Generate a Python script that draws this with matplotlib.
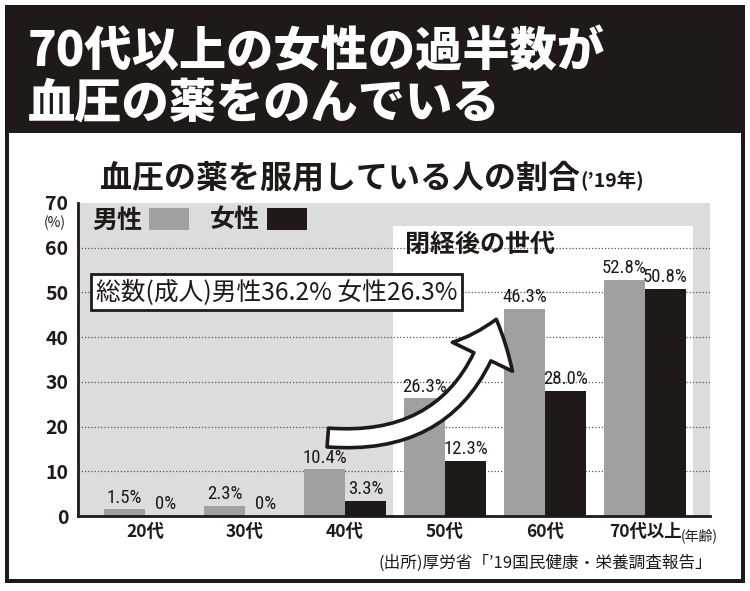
import matplotlib
matplotlib.use("Agg")
import matplotlib.pyplot as plt
from matplotlib import font_manager
from matplotlib.patches import Rectangle, Patch, FancyArrowPatch
import matplotlib.transforms as mtransforms
import numpy as np

plt.rcParams['font.family'] = ['Noto Sans CJK JP', 'DejaVu Sans']

# データ
AGE_GROUPS = ["20代", "30代", "40代", "50代", "60代", "70代以上"]
MALE = [1.5, 2.3, 10.4, 26.3, 46.3, 52.8]
FEMALE = [0, 0, 3.3, 12.3, 28.0, 50.8]
Y_TICKS = [0, 10, 20, 30, 40, 50, 60, 70]
GRID_LEVELS = [10, 20, 30, 40, 50, 60]

TITLE_1 = "70代以上の女性の過半数が"
TITLE_2 = "血圧の薬をのんでいる"
CHART_TITLE = "血圧の薬を服用している人の割合"
CHART_YEAR = "(’19年)"
TOTAL_NOTE = "総数(成人)男性36.2% 女性26.3%"
MENO_NOTE = "閉経後の世代"
SOURCE = "(出所)厚労省「’19国民健康・栄養調査報告」"

C_MALE = "#a0a0a0"
C_FEMALE = "#1f1a17"
C_BG = "#dcdcdc"
C_DARK = "#1f1a17"

W, H = 750, 591
fig = plt.figure(figsize=(W / 100, H / 100), dpi=100)

# 数字用の細めのフォント(あれば)
available = {f.name for f in font_manager.fontManager.ttflist}
narrow = "Noto Sans CJK JP"
for name in ["Liberation Sans Narrow", "DejaVu Sans Condensed", "Roboto Condensed"]:
    if name in available:
        narrow = name
        break

# 背景(ピクセル座標)
bg = fig.add_axes([0, 0, 1, 1])
bg.set_xlim(0, W)
bg.set_ylim(H, 0)
bg.axis("off")
bg.add_patch(Rectangle((5, 5), 740, 578, facecolor=C_DARK, edgecolor="none"))
bg.add_patch(Rectangle((9, 133), 732, 446, facecolor="white", edgecolor="none"))

bg.text(28, 52, TITLE_1, color="white", fontsize=34, fontweight="heavy", va="center", ha="left")
bg.text(28, 103, TITLE_2, color="white", fontsize=34, fontweight="heavy", va="center", ha="left")

t_main = bg.text(100, 178, CHART_TITLE, color=C_DARK, fontsize=23, fontweight="bold",
                 va="center", ha="left")
bg.annotate(CHART_YEAR, xy=(1, 0.42), xycoords=t_main, color=C_DARK, fontsize=14,
            fontweight="bold", va="center", ha="left")

bg.text(712, 563, SOURCE, color=C_DARK, fontsize=12, va="center", ha="right")

# メインのグラフ
ax = fig.add_axes([78 / W, (H - 516) / H, (710 - 78) / W, (516 - 203) / H])
ax.set_facecolor(C_BG)
x = np.arange(len(AGE_GROUPS))
bw = 0.41
ax.set_xlim(-0.67, 5.65)
ax.set_ylim(0, 70)

# 閉経後の世代(白い領域)
ax.add_patch(Rectangle((2.48, 0), 3.0, 64.9, facecolor="white", edgecolor="none", zorder=0.5))

for lv in GRID_LEVELS:
    ax.axhline(lv, color="#555555", lw=0.9, linestyle=(0, (1, 1.6)), zorder=1)

b1 = ax.bar(x - bw / 2, MALE, bw, color=C_MALE, zorder=2)
b2 = ax.bar(x + bw / 2, FEMALE, bw, color=C_FEMALE, zorder=2)

def fmt(v):
    return "0%" if v == 0 else f"{v:.1f}%"

ax.bar_label(b1, labels=[fmt(v) for v in MALE], padding=2, fontsize=13.5,
             family=[narrow, "DejaVu Sans"], color=C_DARK)
ax.bar_label(b2, labels=[fmt(v) for v in FEMALE], padding=2, fontsize=13.5,
             family=[narrow, "DejaVu Sans"], color=C_DARK)

for s in ["top", "right"]:
    ax.spines[s].set_visible(False)
for s in ["left", "bottom"]:
    ax.spines[s].set_linewidth(2)
    ax.spines[s].set_color(C_DARK)
    ax.spines[s].set_zorder(3)

ax.set_yticks(Y_TICKS)
ax.set_yticklabels([str(v) for v in Y_TICKS], fontsize=14, fontweight="bold", color=C_DARK)
ax.set_xticks(x)
ax.set_xticklabels(AGE_GROUPS, fontsize=12.5, fontweight="bold", color=C_DARK)
ax.tick_params(axis="both", length=0)
ax.tick_params(axis="y", pad=7)
ax.tick_params(axis="x", pad=5)

# (%) と (年齢)
ax.text(-0.036, 0.935, "(%)", transform=ax.transAxes, fontsize=10, ha="center",
        va="center", color=C_DARK)
trans = mtransforms.blended_transform_factory(ax.transData, ax.transAxes)
ax.text(5.36, -0.062, "(年齢)", transform=trans, fontsize=10, ha="left", va="center",
        color=C_DARK, clip_on=False)

# 凡例
handles = [Patch(facecolor=C_MALE), Patch(facecolor=C_FEMALE)]
leg = ax.legend(handles, ["男性", "女性"], loc="upper left", bbox_to_anchor=(0.022, 0.985),
                ncol=2, markerfirst=False, frameon=False, handlelength=1.6,
                handleheight=1.0, handletextpad=0.3, columnspacing=0.8,
                borderpad=0, borderaxespad=0,
                prop={"size": 18, "weight": "bold"})
for t in leg.get_texts():
    t.set_color(C_DARK)

# 総数の注記
ax.text(-0.49, 50, TOTAL_NOTE, fontsize=17.8, ha="left", va="center", color=C_DARK, zorder=5,
        bbox=dict(boxstyle="square,pad=0.2", facecolor="white", edgecolor=C_DARK, lw=2))

ax.text(2.6, 60.6, MENO_NOTE, fontsize=18, fontweight="bold", ha="left", va="center",
        color=C_DARK, zorder=5)

# 曲がった矢印
arrow = FancyArrowPatch((1.8, 17.6), (3.52, 44.6),
                        connectionstyle="arc3,rad=0.42",
                        arrowstyle="simple,head_length=1.8,head_width=3.0,tail_width=0.85",
                        mutation_scale=16, facecolor="white", edgecolor=C_DARK, lw=2.6,
                        joinstyle="round", capstyle="round", zorder=4)
ax.add_patch(arrow)

fig.savefig("out.png", dpi=100)
